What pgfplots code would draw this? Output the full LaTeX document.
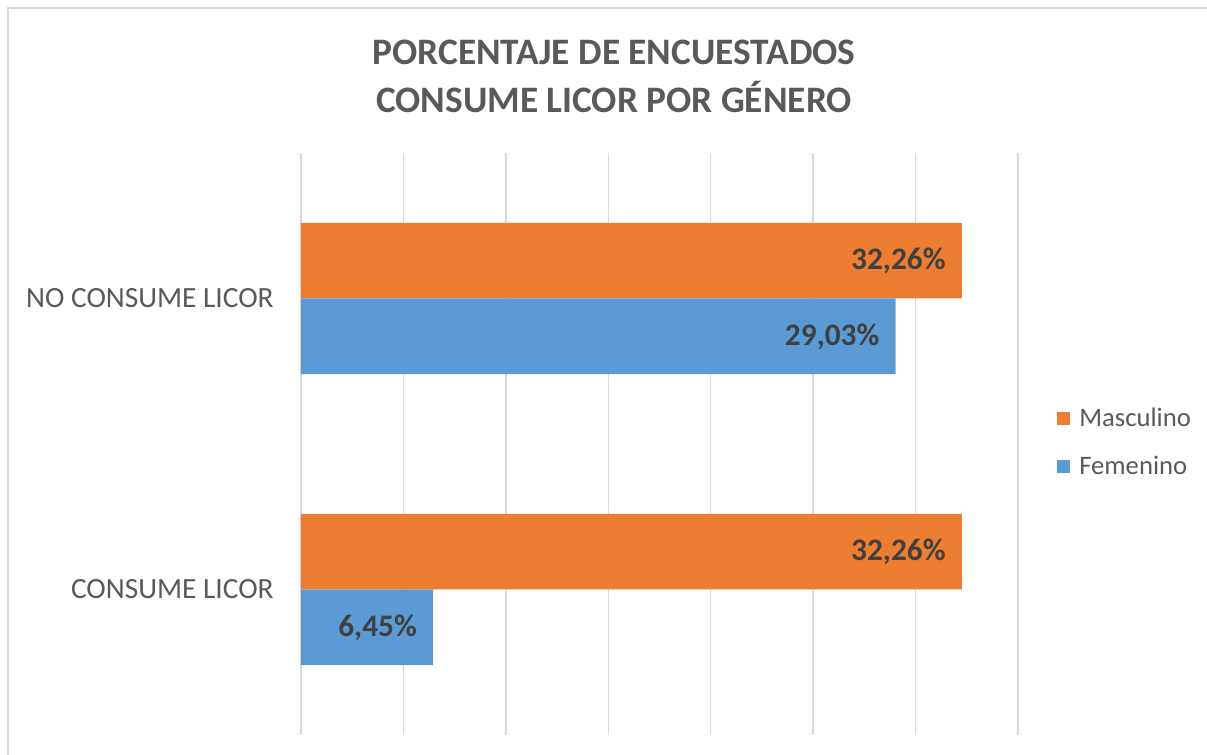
\documentclass[border=0pt]{standalone}
\usepackage{fontspec}
\setmainfont{Carlito}
\usepackage{pgfplots}
\pgfplotsset{compat=1.18}

\definecolor{masc}{HTML}{ED7D31}
\definecolor{fem}{HTML}{5B9BD5}
\definecolor{gridgray}{HTML}{D9D9D9}
\definecolor{txtgray}{HTML}{595959}
\definecolor{lblgray}{HTML}{404040}

\begin{document}
\begin{tikzpicture}
% 1px = 0.75pt, canvas 1207x755
\path[use as bounding box] (0pt,0pt) rectangle (905.25pt,566.25pt);
\draw[gridgray, line width=2pt] (6pt,0pt) -- (6pt,560.25pt) -- (905.25pt,560.25pt);

\node[text=txtgray, font=\bfseries\fontsize{28}{36}\selectfont, align=center]
  at (460.5pt,509pt) {PORCENTAJE DE ENCUESTADOS\\CONSUME LICOR POR GÉNERO};

\begin{axis}[
  at={(225.75pt,15pt)}, anchor=south west,
  scale only axis,
  width=537.75pt, height=436.5pt,
  xbar,
  bar width=0.26,
  xmin=0, xmax=35,
  ymin=-0.5, ymax=1.5,
  xtick={0,5,...,35},
  xticklabels={},
  ytick={0,1},
  yticklabels={CONSUME LICOR,NO CONSUME LICOR},
  yticklabel style={font=\fontsize{22}{26}\selectfont, text=txtgray, xshift=-17pt},
  major tick length=0pt,
  axis line style={draw=none},
  xmajorgrids,
  grid style={gridgray, line width=1.1pt},
  nodes near coords={\pgfmathprintnumber[fixed, fixed zerofill, precision=2, use comma]{\pgfplotspointmeta}\%},
  point meta=x,
  /pgf/number format/assume math mode=true,
  nodes near coords align={anchor=east},
  every node near coord/.append style={font=\bfseries\fontsize{23.5}{27}\selectfont, text=lblgray, inner sep=0pt, xshift=-12pt},
  legend cell align=left,
  legend style={draw=none, fill=none, at={(1.0544,0.503)}, anchor=west,
    font=\fontsize{20}{24}\selectfont, text=txtgray, row sep=17pt, inner sep=0pt},
  legend image code/.code={\fill[#1] (0pt,-4.9pt) rectangle (9.75pt,4.9pt); \path (14.5pt,0pt);},
]
\addplot[fill=masc, draw=none, bar shift=0.13] coordinates {(32.26,0) (32.26,1)};
\addlegendentry{Masculino}
\addplot[fill=fem, draw=none, bar shift=-0.13] coordinates {(6.45,0) (29.03,1)};
\addlegendentry{Femenino}
\end{axis}
\end{tikzpicture}
\end{document}
